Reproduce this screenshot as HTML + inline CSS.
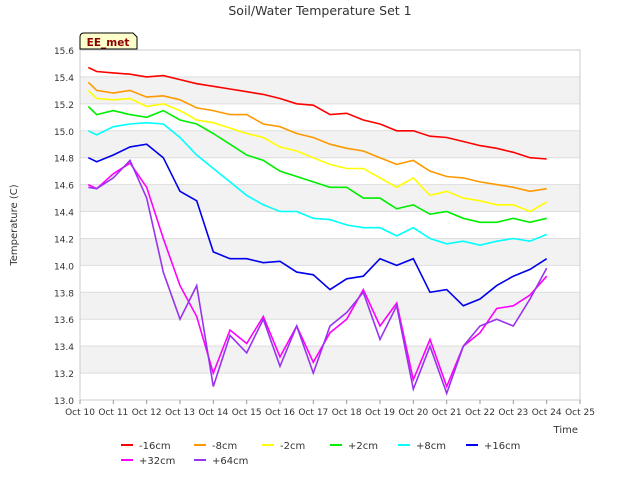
<!DOCTYPE html>
<html><head><meta charset="utf-8"><style>
body{margin:0;background:#fff;font-family:"DejaVu Sans","Liberation Sans",sans-serif}
svg text{font-family:"DejaVu Sans","Liberation Sans",sans-serif}
</style></head><body>
<svg id="chart" width="640" height="480">
<text x="320" y="15" text-anchor="middle" font-size="12.5" fill="#333">Soil/Water Temperature Set 1</text>
<text transform="translate(17,225) rotate(-90)" text-anchor="middle" font-size="10" fill="#333">Temperature (C)</text>
<text x="578" y="433" text-anchor="end" font-size="10" fill="#333">Time</text>
<g id="bands"></g><g id="grid"></g><g id="series"></g><g id="ticks"></g><g id="legend"></g>
<g>
<path d="M80,49 L80,37 Q80,33 84,33 L133,33 L137,37 L137,49 Z" fill="#ffffcc" stroke="#000" stroke-width="1"/>
<text x="108" y="46" text-anchor="middle" font-size="10.5" font-weight="bold" fill="#8b0000">EE_met</text>
</g>
</svg>
<script>
const days=[0.25,0.5,1,1.5,2,2.5,3,3.5,4,4.5,5,5.5,6,6.5,7,7.5,8,8.5,9,9.5,10,10.5,11,11.5,12,12.5,13,13.5,14];
const s16=[15.47,15.44,15.43,15.42,15.40,15.41,15.38,15.35,15.33,15.31,15.29,15.27,15.24,15.20,15.19,15.12,15.13,15.08,15.05,15.00,15.00,14.96,14.95,14.92,14.89,14.87,14.84,14.80,14.79];
const s8=[15.36,15.30,15.28,15.30,15.25,15.26,15.23,15.17,15.15,15.12,15.12,15.05,15.03,14.98,14.95,14.90,14.87,14.85,14.80,14.75,14.78,14.70,14.66,14.65,14.62,14.60,14.58,14.55,14.57];
const s2=[15.30,15.24,15.23,15.24,15.18,15.20,15.15,15.08,15.06,15.02,14.98,14.95,14.88,14.85,14.80,14.75,14.72,14.72,14.65,14.58,14.65,14.52,14.55,14.50,14.48,14.45,14.45,14.40,14.47];
const p2=[15.18,15.12,15.15,15.12,15.10,15.15,15.08,15.05,14.98,14.90,14.82,14.78,14.70,14.66,14.62,14.58,14.58,14.50,14.50,14.42,14.45,14.38,14.40,14.35,14.32,14.32,14.35,14.32,14.35];
const p8=[15.00,14.97,15.03,15.05,15.06,15.05,14.95,14.82,14.72,14.62,14.52,14.45,14.40,14.40,14.35,14.34,14.30,14.28,14.28,14.22,14.28,14.20,14.16,14.18,14.15,14.18,14.20,14.18,14.23];
const p16=[14.80,14.77,14.82,14.88,14.90,14.80,14.55,14.48,14.10,14.05,14.05,14.02,14.03,13.95,13.93,13.82,13.90,13.92,14.05,14.00,14.05,13.80,13.82,13.70,13.75,13.85,13.92,13.97,14.05];
const p32=[14.60,14.57,14.68,14.76,14.58,14.20,13.85,13.62,13.20,13.52,13.42,13.62,13.32,13.55,13.28,13.50,13.60,13.82,13.55,13.72,13.15,13.45,13.10,13.40,13.50,13.68,13.70,13.78,13.92];
const p64=[14.58,14.57,14.65,14.78,14.50,13.95,13.60,13.85,13.10,13.48,13.35,13.60,13.25,13.55,13.20,13.55,13.65,13.80,13.45,13.70,13.08,13.40,13.05,13.40,13.55,13.60,13.55,13.75,13.98];
const names=["-16cm","-8cm","-2cm","+2cm","+8cm","+16cm","+32cm","+64cm"];
const colors=["#ff0000","#ff9900","#ffff00","#00ee00","#00ffff","#0000ee","#ff00ff","#9933ee"];
const yTicks=[13.0,13.2,13.4,13.6,13.8,14.0,14.2,14.4,14.6,14.8,15.0,15.2,15.4,15.6];
const xTicks=["Oct 10","Oct 11","Oct 12","Oct 13","Oct 14","Oct 15","Oct 16","Oct 17","Oct 18","Oct 19","Oct 20","Oct 21","Oct 22","Oct 23","Oct 24","Oct 25"];
const NS="http://www.w3.org/2000/svg";
const L=80,R=580,T=50,B=400;
const xs=d=>L+d*(R-L)/15;
const ys=v=>B-(v-13.0)*(B-T)/2.6;
function mk(t,a,p){const e=document.createElementNS(NS,t);for(const k in a)e.setAttribute(k,a[k]);p.appendChild(e);return e;}
const bands=document.getElementById('bands');
for(let i=0;i<yTicks.length-1;i++){
 const r=mk('rect',{x:L,y:ys(yTicks[i+1]),width:R-L,height:ys(yTicks[i])-ys(yTicks[i+1]),fill:(i%2===1)?'#f2f2f2':'#ffffff'},bands);
 
 
}
const grid=document.getElementById('grid');
yTicks.forEach(v=>{const l=mk('line',{x1:L,x2:R,y1:ys(v),y2:ys(v),stroke:'#dddddd'},grid);
 
 });
const fr=mk('rect',{x:L,y:T,width:R-L,height:B-T,fill:'none',stroke:'#cccccc'},grid);


const ticks=document.getElementById('ticks');
yTicks.forEach(v=>{const t=mk('text',{x:L-6,y:ys(v)+4,'text-anchor':'end','font-size':'9',fill:'#333'},ticks);t.textContent=v.toFixed(1);
 
 });
xTicks.forEach((s,i)=>{mk('line',{x1:xs(i),x2:xs(i),y1:B,y2:B+4,stroke:'#999'},ticks);
 const t=mk('text',{x:xs(i),y:B+15,'text-anchor':'middle','font-size':'9',fill:'#333'},ticks);t.textContent=s;
 
 });
const ser=document.getElementById('series');
[s16,s8,s2,p2,p8,p16,p32,p64].forEach((arr,k)=>{
 const pts=arr.map((v,i)=>xs(days[i]).toFixed(1)+','+ys(v).toFixed(1)).join(' ');
 const pl=mk('polyline',{points:pts,fill:'none',stroke:colors[k],'stroke-width':'1.6'},ser);
 
 
});
const leg=document.getElementById('legend');
const lx=[121,194,262,330,398,466,121,194],ly=[445,445,445,445,445,445,460,460];
names.forEach((n,k)=>{const g=mk('g',{},leg);
 
 
 mk('line',{x1:lx[k],x2:lx[k]+12,y1:ly[k],y2:ly[k],stroke:colors[k],'stroke-width':'2'},g);
 const t=mk('text',{x:lx[k]+18,y:ly[k]+4,'font-size':'10',fill:'#333'},g);t.textContent=n;});
</script>
</body></html>
